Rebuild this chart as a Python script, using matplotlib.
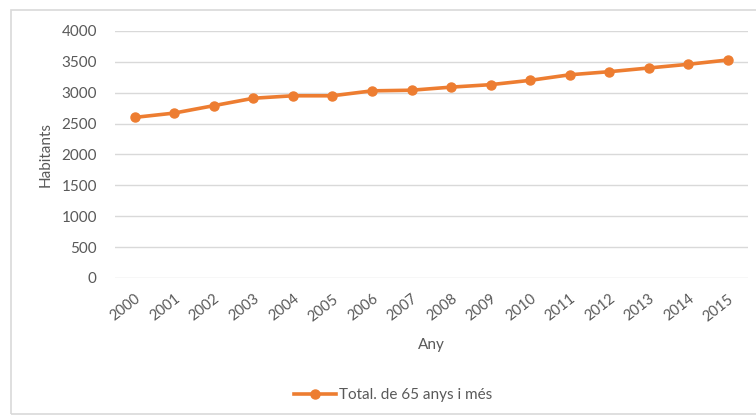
import matplotlib.pyplot as plt
from matplotlib.patches import Rectangle

plt.rcParams['font.family'] = ['Lato', 'DejaVu Sans']

# persones de 65 anys i més, per any
anys = ['2000', '2001', '2002', '2003', '2004', '2005', '2006', '2007',
        '2008', '2009', '2010', '2011', '2012', '2013', '2014', '2015']
habitants = [2600, 2670, 2790, 2910, 2950, 2950, 3030, 3040,
             3090, 3130, 3200, 3290, 3340, 3400, 3460, 3530]
yticks = [0, 500, 1000, 1500, 2000, 2500, 3000, 3500, 4000]

orange = '#ED7D31'
grey_text = '#595959'
grid_col = '#D9D9D9'

fig = plt.figure(figsize=(7.56, 4.18), dpi=100)
ax = fig.add_axes([0.152, 0.335, 0.837, 0.591])

x = list(range(len(anys)))
ax.plot(x, habitants, color=orange, lw=2.6, marker='o', ms=6.5,
        label='Total. de 65 anys i més')

ax.set_xlim(-0.5, len(anys) - 0.5)
ax.set_ylim(0, 4000)
ax.set_yticks(yticks)
ax.set_xticks(x)
ax.set_xticklabels(anys, rotation=38, ha='right', rotation_mode='anchor')
ax.grid(axis='y', color=grid_col, lw=1)
ax.set_axisbelow(True)
for s in ax.spines.values():
    s.set_visible(False)
ax.tick_params(length=0, colors=grey_text, labelsize=11)
ax.tick_params(axis='x', pad=10, labelsize=10.5)
ax.tick_params(axis='y', pad=13)

ax.set_ylabel('Habitants', color=grey_text, fontsize=11, labelpad=6)
ax.set_xlabel('Any', color=grey_text, fontsize=11, labelpad=10)

leg = fig.legend(loc='center', bbox_to_anchor=(0.52, 1 - 395 / 418),
                 frameon=False, fontsize=11, handlelength=2.7,
                 handletextpad=0.2)
for t in leg.get_texts():
    t.set_color(grey_text)

# marc exterior del gràfic
fig.patches.append(Rectangle((11 / 756, 4 / 418), 760 / 756, 404 / 418,
                             transform=fig.transFigure, fill=False,
                             edgecolor=grid_col, lw=1.2))

fig.savefig('out.png', dpi=100)
